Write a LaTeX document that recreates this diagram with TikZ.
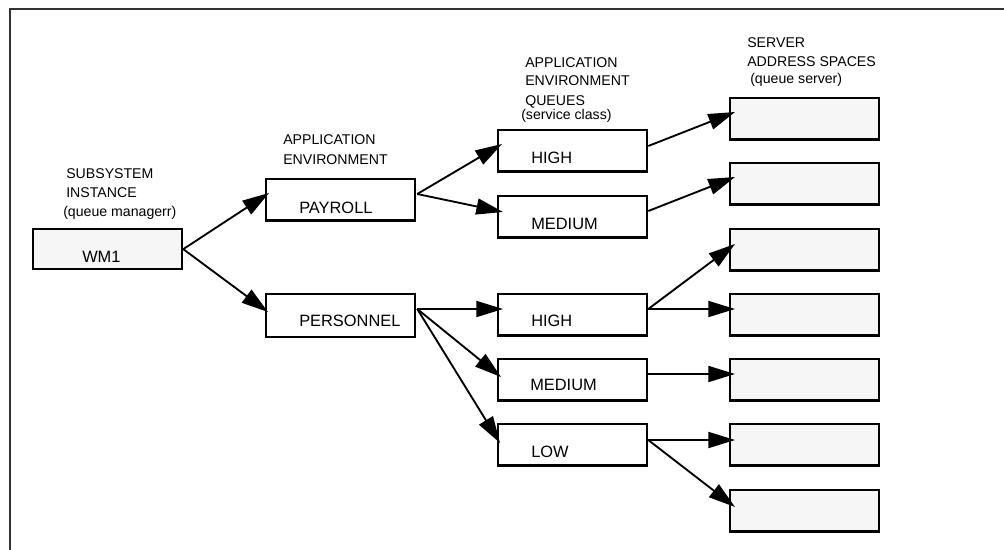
\documentclass[tikz,border=0pt]{standalone}
\usepackage{fontspec}
\setmainfont{Liberation Sans}
\usetikzlibrary{arrows.meta,calc}

\definecolor{dotfill}{gray}{0.965}

\tikzset{
  box/.style={draw, line width=1.7pt, inner sep=0pt, anchor=north west,
    minimum width=111.75pt, minimum height=31pt},
  srvbox/.style={box, fill=dotfill},
  boxtext/.style={anchor=base west, inner sep=0pt, font=\fontsize{12.3}{14}\selectfont},
  caption/.style={anchor=base west, inner sep=0pt, font=\fontsize{10.6}{12.6}\selectfont},
  flow/.style={line width=1.4pt, -{Triangle[length=20pt,width=12pt]}},
  frame/.style={line width=0.8pt, black!80}
}

\begin{document}
\begin{tikzpicture}[x=0.75pt,y=-0.75pt]
\useasboundingbox (0,0) rectangle (1004,550);

% page frame (top and left rules)
\draw[frame] (10,550) -- (10,9) -- (1004,9);

% subsystem instance
\node[srvbox, minimum height=30pt] (wm1) at (32,228) {};
\node[boxtext] (twm1) at (82,262) {WM1};
\node[caption] (c1a) at (66,178) {SUBSYSTEM};
\node[caption] (c1b) at (66,197) {INSTANCE};
\node[caption] (c1c) at (63,216) {(queue managerr)};

% application environments
\node[box] (pay) at (265,178) {};
\node[boxtext] (tpay) at (299,213) {PAYROLL};
\node[box, minimum height=32pt] (per) at (265,293) {};
\node[boxtext] (tper) at (299,326) {PERSONNEL};
\node[caption] (c2a) at (283,144) {APPLICATION};
\node[caption] (c2b) at (283,164) {ENVIRONMENT};

% application environment queues
\node[box] (q1) at (497,129) {};
\node[boxtext] (tq1) at (531,163) {HIGH};
\node[box] (q2) at (497,195) {};
\node[boxtext] (tq2) at (531,229) {MEDIUM};
\node[box] (q3) at (497,293) {};
\node[boxtext] (tq3) at (531,326) {HIGH};
\node[box] (q4) at (497,358) {};
\node[boxtext] (tq4) at (530,390) {MEDIUM};
\node[box] (q5) at (497,423) {};
\node[boxtext] (tq5) at (531,457) {LOW};
\node[caption] (c3a) at (525,67) {APPLICATION};
\node[caption] (c3b) at (525,85) {ENVIRONMENT};
\node[caption] (c3c) at (525,105) {QUEUES};
\node[caption] (c3d) at (521,119) {(service class)};

% server address spaces
\node[srvbox] (s1) at (729,97) {};
\node[srvbox] (s2) at (729,162) {};
\node[srvbox] (s3) at (729,228) {};
\node[srvbox] (s4) at (729,293) {};
\node[srvbox] (s5) at (729,358) {};
\node[srvbox] (s6) at (729,423) {};
\node[srvbox] (s7) at (729,489) {};
\node[caption] (c4a) at (747,47) {SERVER};
\node[caption] (c4b) at (747,66) {ADDRESS SPACES};
\node[caption] (c4c) at (750,83) {(queue server)};

% routing
\draw[flow] (wm1.east) -- ($(pay.north west)+(4,15)$);
\draw[flow] (wm1.east) -- ($(per.north west)+(3,19)$);

\draw[flow] ($(pay.north east)+(1,16)$) -- ($(q1.north west)+(5,15)$);
\draw[flow] ($(pay.north east)+(1,16)$) -- ($(q2.north west)+(6,17)$);

\draw[flow] ($(per.north east)+(1,16)$) -- ($(q3.north west)+(6,16)$);
\draw[flow] ($(per.north east)+(1,16)$) -- ($(q4.north west)+(4,19)$);
\draw[flow] ($(per.north east)+(1,16)$) -- ($(q5.north west)+(3,20)$);

\draw[flow] ($(q1.north east)+(0,17)$) -- ($(s1.north west)+(6,15)$);
\draw[flow] ($(q2.north east)+(0,16)$) -- ($(s2.north west)+(6,15)$);
\draw[flow] ($(q3.north east)+(0,16)$) -- ($(s3.north west)+(6,16)$);
\draw[flow] ($(q3.north east)+(0,16)$) -- ($(s4.north west)+(6,16)$);
\draw[flow] ($(q4.north east)+(0,16)$) -- ($(s5.north west)+(6,16)$);
\draw[flow] ($(q5.north east)+(0,17)$) -- ($(s6.north west)+(6,17)$);
\draw[flow] ($(q5.north east)+(0,17)$) -- ($(s7.north west)+(6,18)$);
\end{tikzpicture}
\end{document}
